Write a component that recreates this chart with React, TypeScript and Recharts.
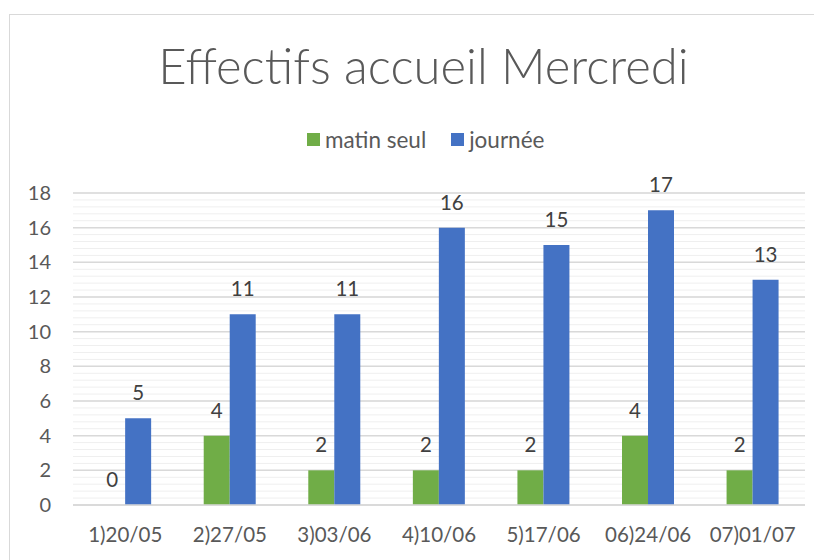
import React from 'react';
import {
  BarChart,
  Bar,
  XAxis,
  YAxis,
  CartesianGrid,
  LabelList
} from 'recharts';

const categories = ['1)20/05', '2)27/05', '3)03/06', '4)10/06', '5)17/06', '06)24/06', '07)01/07'];
const matinSeul = [0, 4, 2, 2, 2, 4, 2];
const journee = [5, 11, 11, 16, 15, 17, 13];
const yTicks = [0, 2, 4, 6, 8, 10, 12, 14, 16, 18];

const data = categories.map((name, i) => ({
  name,
  matin: matinSeul[i],
  journee: journee[i]
}));

// minor gridlines every 0.4 like the original
const minorLines = Array.from({ length: 46 }, (_, i) => Math.round(i * 0.4 * 10) / 10);

const FONT = 'Lato, "Open Sans", sans-serif';
const TEXT = '#595959';
const GREEN = '#70ad47';
const BLUE = '#4472c4';

const App: React.FC = () => {
  const width = 815;
  const height = 545;
  const top = 178;
  const bottom = 55;
  const plotH = height - top - bottom;
  const yOf = (v: number) => top + plotH - (v / 18) * plotH;

  return (
    <div
      style={{
        position: 'relative',
        width: width,
        height: height,
        marginTop: 6,
        marginLeft: 1,
        border: '1px solid #d9d9d9',
        borderBottom: 'none',
        background: '#fff',
        fontFamily: FONT
      }}
    >
      <div
        style={{
          position: 'absolute',
          left: 413.5,
          top: 21,
          transform: 'translateX(-50%)',
          whiteSpace: 'nowrap',
          fontSize: 49,
          fontFamily: '"Lato Light", Lato, sans-serif',
          fontWeight: 300,
          color: TEXT
        }}
      >
        Effectifs accueil Mercredi
      </div>
      <div
        style={{
          position: 'absolute',
          left: 297,
          top: 111,
          display: 'flex',
          alignItems: 'center',
          whiteSpace: 'nowrap',
          fontSize: 22.5,
          color: TEXT
        }}
      >
        <span style={{ width: 13, height: 13, background: GREEN, display: 'inline-block', marginRight: 5 }} />
        <span style={{ marginRight: 25 }}>matin seul</span>
        <span style={{ width: 13, height: 13, background: BLUE, display: 'inline-block', marginRight: 5 }} />
        <span>journée</span>
      </div>
      <BarChart
        width={width}
        height={height}
        data={data}
        margin={{ top: top, right: 20, bottom: 0, left: 0 }}
        barCategoryGap="25%"
        barGap={0}
      >
        <CartesianGrid
          vertical={false}
          stroke="#efefef"
          strokeWidth={1}
          horizontalPoints={minorLines.map(yOf)}
        />
        <CartesianGrid
          vertical={false}
          stroke="#d9d9d9"
          strokeWidth={1.5}
          horizontalPoints={yTicks.map(yOf)}
        />
        <XAxis
          dataKey="name"
          height={bottom}
          axisLine={{ stroke: '#d9d9d9', strokeWidth: 1.5 }}
          tickLine={false}
          tickSize={0}
          tickMargin={22}
          tick={{ fill: TEXT, fontSize: 20.5, fontFamily: FONT }}
          interval={0}
        />
        <YAxis
          width={63}
          domain={[0, 18]}
          ticks={yTicks}
          axisLine={false}
          tickLine={false}
          tickSize={0}
          tickMargin={22}
          tick={{ fill: TEXT, fontSize: 20, fontFamily: FONT }}
        />
        <Bar dataKey="matin" name="matin seul" fill={GREEN} minPointSize={0.01} isAnimationActive={false}>
          <LabelList dataKey="matin" position="top" offset={18} fill="#404040" fontSize={20.5} fontFamily={FONT} />
        </Bar>
        <Bar dataKey="journee" name="journée" fill={BLUE} isAnimationActive={false}>
          <LabelList dataKey="journee" position="top" offset={18} fill="#404040" fontSize={20.5} fontFamily={FONT} />
        </Bar>
      </BarChart>
    </div>
  );
};

export default App;
